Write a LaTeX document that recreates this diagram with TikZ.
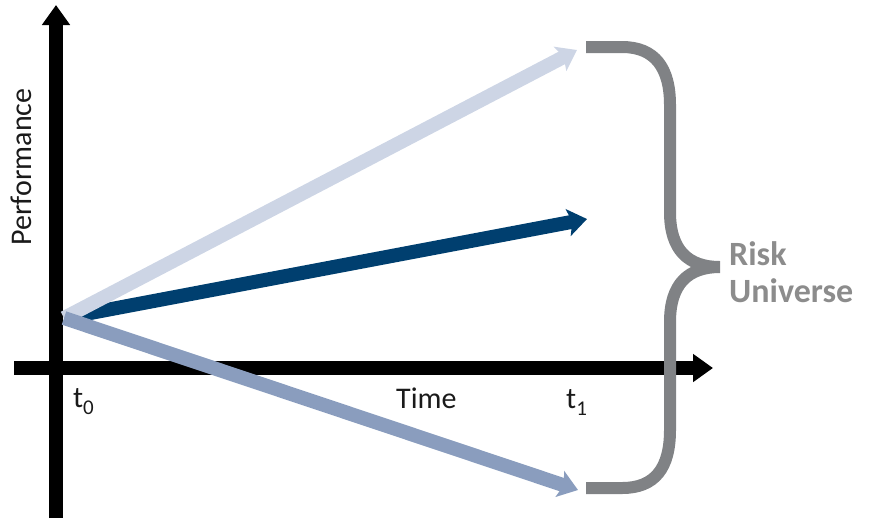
\documentclass[tikz,border=0pt]{standalone}
\usepackage{fontspec}
\setmainfont{Carlito}
\usetikzlibrary{arrows.meta}
\definecolor{lightarr}{HTML}{CDD5E5}
\definecolor{darkarr}{HTML}{003F6F}
\definecolor{midarr}{HTML}{8A9DBE}
\definecolor{bracegray}{HTML}{808285}
\definecolor{ruegray}{HTML}{8C8C8C}
\definecolor{txt}{HTML}{1A1A1A}
\newcommand{\subidx}[1]{\raisebox{-7pt}{\fontsize{21}{21}\selectfont #1}}
\tikzset{
  axis/.style={line width=14pt, -{Triangle[length=20pt,width=27pt]}},
  scen/.style={line width=14pt, -{Stealth[length=19pt,width=27pt,inset=4pt]}},
  lbl/.style={text=txt, font=\fontsize{30}{32}\selectfont, inner sep=0pt},
}
\begin{document}
\begin{tikzpicture}[x=1pt,y=-1pt]
\useasboundingbox (0,0) rectangle (869,531);
% coordinates
\coordinate (ybot) at (56,518);
\coordinate (ytop) at (56,5);
\coordinate (xl) at (14,368);
\coordinate (xr) at (713,368);
\coordinate (o) at (64,318);
\coordinate (lt) at (577,50);
\coordinate (dt) at (587,219);
\coordinate (mt) at (578,490);
% axes
\draw[axis] (ybot) -- (ytop);
\draw[axis] (xl) -- (xr);
% scenario arrows
\draw[scen, darkarr] (o) -- (dt);
\draw[scen, lightarr] (o) -- (lt);
\draw[scen, midarr] (o) -- (mt);
% brace
\draw[bracegray, line width=12pt, line join=round]
  (586,47) -- (622,47) .. controls (655,47) and (670,68) .. (670,105)
  -- (670,212) .. controls (670,250) and (688,267) .. (720,267)
  (720,267) .. controls (688,267) and (670,284) .. (670,322)
  -- (670,430) .. controls (670,468) and (655,488) .. (622,488) -- (586,488);
% labels
\node[lbl, rotate=90] (perf) at (21,167) {Performance};
\node[lbl, anchor=base west] (t0) at (73,407) {t\subidx{0}};
\node[lbl, anchor=base west] (time) at (396,408) {Time};
\node[lbl, anchor=base west] (t1) at (566,408) {t\subidx{1}};
\node[text=ruegray, font=\bfseries\fontsize{34}{37}\selectfont, align=left, anchor=west, inner sep=0pt] (ru) at (729,272) {Risk\\Universe};
\end{tikzpicture}
\end{document}
